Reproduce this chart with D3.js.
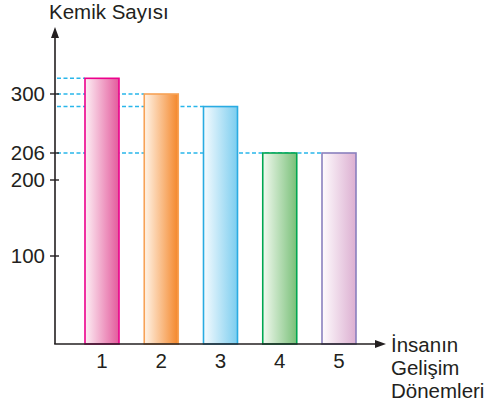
<!DOCTYPE html>
<html>
<head>
<meta charset="utf-8">
<script src="https://cdn.jsdelivr.net/npm/d3@7"></script>
<style>
  html, body { margin: 0; padding: 0; background: #fff; }
  svg { display: block; }
  text { font-family: "Liberation Sans", Arial, sans-serif; fill: #231f20; }
</style>
</head>
<body>
<svg id="chart" width="499" height="411"></svg>
<script>
// Bone counts across the stages of human development
const periods = ["1", "2", "3", "4", "5"];
const boneCounts = [325, 300, 280, 206, 206];
const tickValues = [100, 200, 206, 300];
const barStroke = ["#ec008c", "#f7a256", "#29abe2", "#00a651", "#8a80be"];
const barLight  = ["#fdf0f5", "#fff4e8", "#f6fbfe", "#f2f9f0", "#fefbfd"];
const barDark   = ["#e35a9c", "#f4872a", "#7bcdef", "#79c078", "#dcafd1"];
const yTitle = "Kemik Sayısı";
const xTitle = ["İnsanın", "Gelişim", "Dönemleri"];

const svg = d3.select("#chart");
const ink = "#231f20";
const axisX = 55, axisY = 344;
const fontSize = 20.5;

// The value axis is drawn schematically: each marked value has its own stop
const y = d3.scaleLinear()
  .domain([0, 100, 200, 206, 300])
  .range([axisY, 256, 180, 153, 94]);

const x = d3.scalePoint()
  .domain(periods)
  .range([102, 339]);
const barW = 34;

// gradients for the bar fills
const defs = svg.append("defs");
periods.forEach((p, i) => {
  const g = defs.append("linearGradient")
    .attr("id", "grad" + i)
    .attr("x1", 0).attr("x2", 1).attr("y1", 0).attr("y2", 0);
  g.append("stop").attr("offset", 0).attr("stop-color", barLight[i]);
  g.append("stop").attr("offset", 1).attr("stop-color", barDark[i]);
});

// dashed guide lines from the axis to the last bar of each height
const guides = [];
boneCounts.forEach((v, i) => {
  const g = guides.find(d => d.value === v);
  if (g) g.index = i; else guides.push({ value: v, index: i });
});
svg.append("g").selectAll("line").data(guides).join("line")
  .attr("x1", axisX + 2)
  .attr("x2", d => x(periods[d.index]) - barW / 2)
  .attr("y1", d => y(d.value))
  .attr("y2", d => y(d.value))
  .attr("stroke", "#29b6ea")
  .attr("stroke-width", 1.4)
  .attr("stroke-dasharray", "4,2.5");

// bars
svg.append("g").selectAll("rect").data(boneCounts).join("rect")
  .attr("x", (d, i) => x(periods[i]) - barW / 2)
  .attr("y", d => y(d))
  .attr("width", barW)
  .attr("height", d => axisY - y(d))
  .attr("fill", (d, i) => `url(#grad${i})`)
  .attr("stroke", (d, i) => barStroke[i])
  .attr("stroke-width", 1.6);

// axes
svg.append("line")
  .attr("x1", axisX).attr("x2", axisX)
  .attr("y1", axisY).attr("y2", 34)
  .attr("stroke", ink).attr("stroke-width", 1.6);
svg.append("path")
  .attr("d", `M${axisX},27 L${axisX - 4},38 L${axisX + 4},38 Z`)
  .attr("fill", ink);
svg.append("line")
  .attr("x1", axisX - 0.8).attr("x2", 378)
  .attr("y1", axisY).attr("y2", axisY)
  .attr("stroke", ink).attr("stroke-width", 1.6);
svg.append("path")
  .attr("d", `M386,${axisY} L375,${axisY - 4} L375,${axisY + 4} Z`)
  .attr("fill", ink);

// value ticks and labels
const ticks = svg.append("g").selectAll("g").data(tickValues).join("g")
  .attr("transform", d => `translate(0,${y(d)})`);
ticks.append("line")
  .attr("x1", axisX - 5).attr("x2", axisX + 4)
  .attr("stroke", ink).attr("stroke-width", 1.4);
ticks.append("text")
  .attr("x", axisX - 10)
  .attr("dy", "0.36em")
  .attr("text-anchor", "end")
  .attr("font-size", fontSize)
  .text(d => d);

// period labels
svg.append("g").selectAll("text").data(periods).join("text")
  .attr("x", d => x(d))
  .attr("y", 368)
  .attr("text-anchor", "middle")
  .attr("font-size", fontSize)
  .text(d => d);

// axis titles
svg.append("text")
  .attr("x", 49).attr("y", 19)
  .attr("font-size", fontSize)
  .text(yTitle);
svg.append("g").selectAll("text").data(xTitle).join("text")
  .attr("x", 391)
  .attr("y", (d, i) => 352 + i * 23)
  .attr("font-size", fontSize)
  .text(d => d);
</script>
</body>
</html>
